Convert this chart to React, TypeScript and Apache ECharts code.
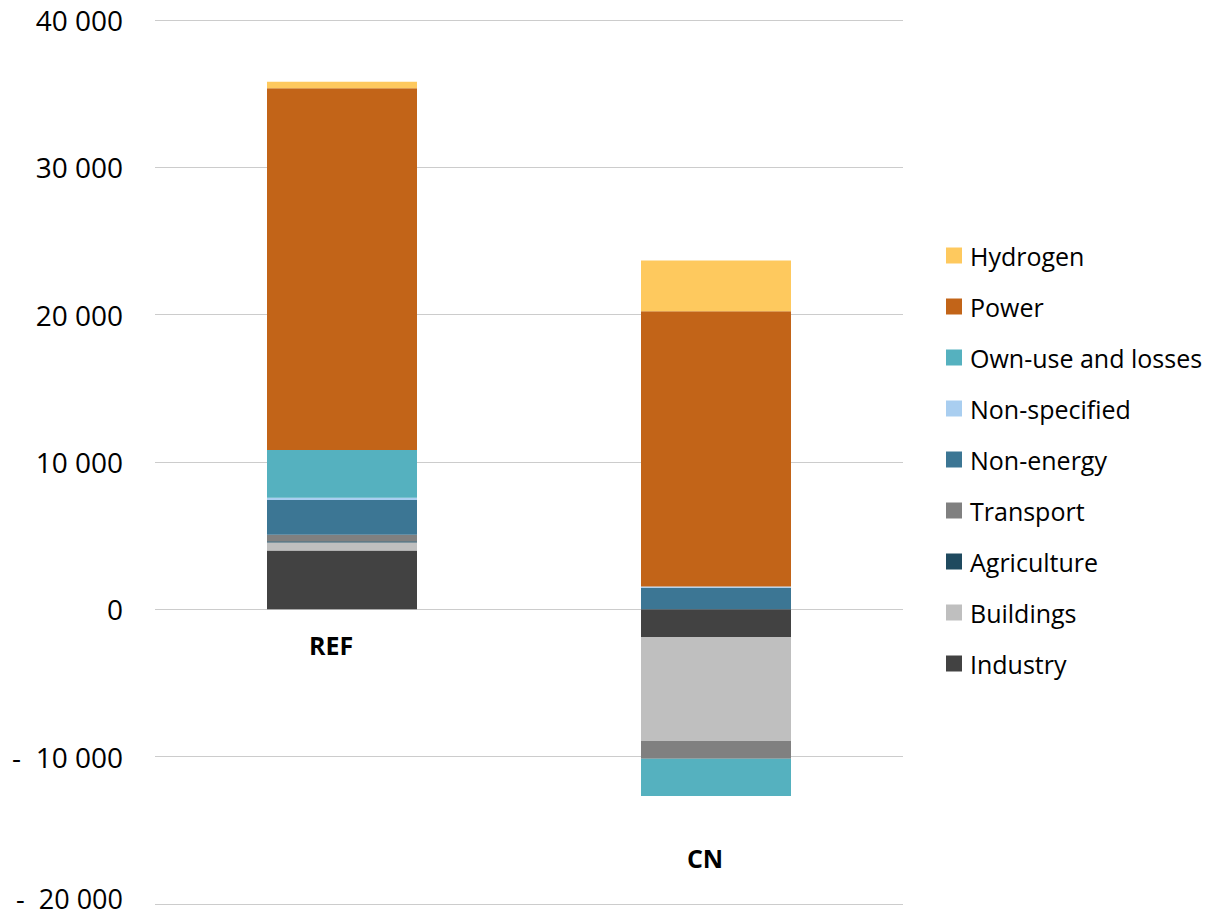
import React, { useEffect, useRef } from "react";
import * as echarts from "echarts";

const categories = ["REF", "CN"];
const seriesNames = [
  "Industry",
  "Buildings",
  "Agriculture",
  "Transport",
  "Non-energy",
  "Non-specified",
  "Own-use and losses",
  "Power",
  "Hydrogen",
];
const industry = [4000, -1880];
const buildings = [540, -7055];
const agriculture = [80, 0];
const transport = [450, -1200];
const nonEnergy = [2350, 1470];
const nonSpecified = [160, 80];
const ownUse = [3235, -2530];
const power = [24560, 18680];
const hydrogen = [430, 3440];
const colors = [
  "#424242",
  "#BFBFBF",
  "#1F4A5F",
  "#808080",
  "#3C7694",
  "#A9CEF0",
  "#55B1BF",
  "#C26418",
  "#FEC95E",
];
const yTicks = { min: -20000, max: 40000, interval: 10000 };

const FONT = "Open Sans";

function fmt(v: number): string {
  if (v === 0) return "0";
  const a = Math.abs(v);
  const s = `${Math.floor(a / 1000)} ${String(a % 1000).padStart(3, "0")}`;
  const t = v < 0 ? `-  ${s}` : s;
  return v === yTicks.min ? `{e|${t}}` : t;
}

export default function App() {
  const ref = useRef<HTMLDivElement>(null);
  useEffect(() => {
    if (!ref.current) return;
    const chart = echarts.init(ref.current, undefined, { renderer: "svg" });
    const values = [industry, buildings, agriculture, transport, nonEnergy, nonSpecified, ownUse, power, hydrogen];
    chart.setOption({
      animation: false,
      backgroundColor: "#ffffff",
      grid: { left: 155, right: 306, top: 20, bottom: 12, containLabel: false, outerBoundsMode: "none" },
      legend: {
        orient: "vertical",
        left: 941,
        top: 238,
        itemWidth: 16,
        itemHeight: 16,
        itemGap: 26,
        icon: "rect",
        data: [...seriesNames].reverse(),
        textStyle: { fontFamily: FONT, fontSize: 25, color: "#000", lineHeight: 25, padding: [0, 0, 0, 3] },
      },
      xAxis: {
        type: "category",
        data: categories,
        axisLine: { show: false },
        axisTick: { show: false },
        axisLabel: { show: false },
      },
      yAxis: {
        type: "value",
        min: yTicks.min,
        max: yTicks.max,
        interval: yTicks.interval,
        axisLine: { show: false },
        axisTick: { show: false },
        splitLine: { lineStyle: { color: "#cccccc", width: 1 } },
        axisLabel: {
          margin: 32,
          fontFamily: FONT,
          fontSize: 28,
          lineHeight: 22,
          color: "#000",
          formatter: (v: number) => fmt(v),
          rich: {
            e: {
              fontFamily: FONT,
              fontSize: 27,
              lineHeight: 22,
              color: "#000",
              padding: [0, 0, 12, 0],
            },
          },
        },
      },
      series: seriesNames.map((name, i) => ({
        name,
        type: "bar",
        stack: "total",
        barWidth: 150,
        data: values[i],
        itemStyle: { color: colors[i] },
      })),
      graphic: [
        {
          type: "text",
          x: 331,
          y: 645,
          style: {
            text: categories[0],
            fontFamily: FONT,
            fontSize: 25,
            fontWeight: "bold",
            fill: "#000",
            align: "center",
            verticalAlign: "middle",
          },
        },
        {
          type: "text",
          x: 705,
          y: 858,
          style: {
            text: categories[1],
            fontFamily: FONT,
            fontSize: 25,
            fontWeight: "bold",
            fill: "#000",
            align: "center",
            verticalAlign: "middle",
          },
        },
      ],
    });
    return () => chart.dispose();
  }, []);
  return (
    <div
      ref={ref}
      style={{ position: "fixed", left: 0, top: 0, width: 1209, height: 916 }}
    />
  );
}
